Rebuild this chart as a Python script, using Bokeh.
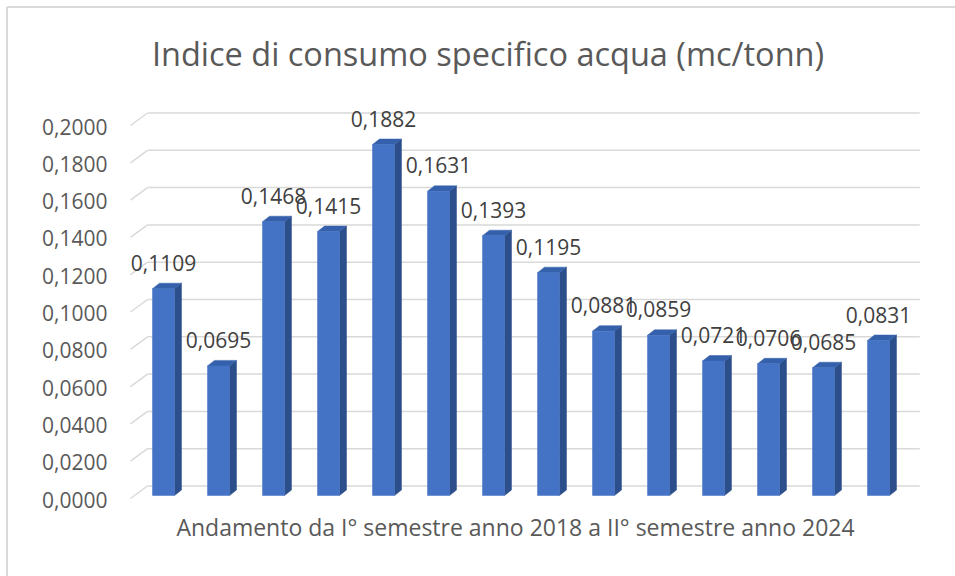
from bokeh.plotting import figure
from bokeh.models import ColumnDataSource
from bokeh.core.properties import value
from bokeh.embed import file_html
from bokeh.resources import INLINE

# ---- data ----
categories = ["I sem 2018", "II sem 2018", "I sem 2019", "II sem 2019", "I sem 2020", "II sem 2020",
              "I sem 2021", "II sem 2021", "I sem 2022", "II sem 2022", "I sem 2023", "II sem 2023",
              "I sem 2024", "II sem 2024"]
values = [0.1109, 0.0695, 0.1468, 0.1415, 0.1882, 0.1631, 0.1393, 0.1195,
          0.0881, 0.0859, 0.0721, 0.0706, 0.0685, 0.0831]
y_ticks = [0.00, 0.02, 0.04, 0.06, 0.08, 0.10, 0.12, 0.14, 0.16, 0.18, 0.20]
y_tick_labels = [f"{t:.4f}".replace(".", ",") for t in y_ticks]
title_text = "Indice di consumo specifico acqua (mc/tonn)"
x_title_text = "Andamento da I° semestre anno 2018 a II° semestre anno 2024"

# ---- geometry / style constants ----
PX_X = 55.0          # px per category slot
PX_Y = 1865.0        # px per unit of value
ORIGIN_X = 130.0     # canvas px of front-left plot corner
ORIGIN_Y = 498.0     # canvas px (from top) of front baseline
W, H = 955, 576
WALL_DX = 17 / PX_X
WALL_DY = 12.5 / PX_Y
BAR_L = 0.40
BAR_R = 0.80
BAR_BASE = 3 / PX_Y
SIDE_DX = 7 / PX_X
SIDE_DY = 5.5 / PX_Y
N_SLOTS = 14 + 0.35


def cx(px):  # canvas x px -> data x
    return (px - ORIGIN_X) / PX_X


def cy(py):  # canvas y px (from top) -> data y
    return (ORIGIN_Y - py) / PX_Y


FONT = "Open Sans"
TXT = "#595959"
GRID = "#D9D9D9"

p = figure(width=W, height=H, output_backend="svg", toolbar_location=None,
           x_range=(cx(0), cx(W)), y_range=(cy(H), cy(0)),
           min_border=0, border_fill_color="white", background_fill_color="white")
p.outline_line_color = None
p.xgrid.visible = False
p.ygrid.visible = False
p.xaxis.visible = False
p.yaxis.visible = False

# chart-area border (left and top edges)
p.segment(x0=[cx(6.5), cx(6.5)], y0=[cy(6.5), cy(6.5)], x1=[cx(6.5), cx(W)], y1=[cy(H), cy(6.5)],
          line_color=GRID, line_width=2)

# gridlines: left wall diagonals + back wall horizontals
n = len(y_ticks)
x_end = N_SLOTS
p.segment(x0=[0] * n, y0=y_ticks, x1=[WALL_DX] * n, y1=[t + WALL_DY for t in y_ticks],
          line_color=GRID, line_width=1.5)
p.segment(x0=[WALL_DX] * n, y0=[t + WALL_DY for t in y_ticks],
          x1=[x_end] * n, y1=[t + WALL_DY for t in y_ticks],
          line_color=GRID, line_width=1.5)

# y tick labels
p.text(x=[cx(107)] * n, y=y_ticks, text=y_tick_labels, y_offset=1,
       text_align="right", text_baseline="middle",
       text_font=value(FONT), text_font_size="21px", text_color=TXT)

# bars
idx = list(range(len(values)))
lefts = [i + BAR_L for i in idx]
rights = [i + BAR_R for i in idx]
tops = [v + BAR_BASE for v in values]

side_xs = [[r, r + SIDE_DX, r + SIDE_DX, r] for r in rights]
side_ys = [[BAR_BASE, BAR_BASE + SIDE_DY, t + SIDE_DY, t] for t in tops]
top_xs = [[l, r, r + SIDE_DX, l + SIDE_DX] for l, r in zip(lefts, rights)]
top_ys = [[t, t, t + SIDE_DY, t + SIDE_DY] for t in tops]

p.patches(side_xs, side_ys, fill_color="#2C4E8A", line_color="#2C4E8A", line_width=0.5)
p.patches(top_xs, top_ys, fill_color="#3560AC", line_color="#3560AC", line_width=0.5)
p.quad(left=lefts, right=rights, bottom=BAR_BASE, top=tops,
       fill_color="#4472C4", line_color="#4472C4", line_width=0.5)

# data labels
src = ColumnDataSource(dict(
    x=[i + (BAR_L + BAR_R) / 2 for i in idx],
    y=tops,
    t=[f"{v:.4f}".replace(".", ",") for v in values],
    cat=categories,
))
p.text(x="x", y="y", text="t", source=src, y_offset=-26,
       text_align="center", text_baseline="middle",
       text_font=value(FONT), text_font_size="21px", text_color="#404040")

# chart title and category-axis title
p.text(x=[cx(487.5)], y=[cy(53)], text=[title_text],
       text_align="center", text_baseline="middle",
       text_font=value(FONT), text_font_size="32.5px", text_color=TXT)
p.text(x=[cx(515)], y=[cy(526)], text=[x_title_text],
       text_align="center", text_baseline="middle",
       text_font=value(FONT), text_font_size="23px", text_color=TXT)

open("out.html", "w").write(file_html(p, INLINE))
